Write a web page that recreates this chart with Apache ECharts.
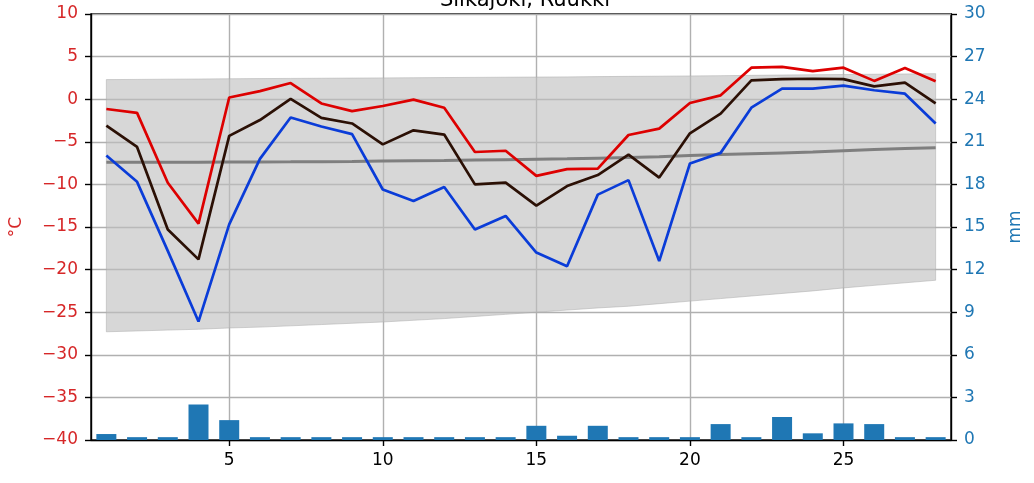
<!DOCTYPE html>
<html>
<head>
<meta charset="utf-8">
<script src="https://cdn.jsdelivr.net/npm/echarts@6/dist/echarts.min.js"></script>
<style>html,body{margin:0;padding:0;background:#fff}#c{width:1034px;height:483px}</style>
</head>
<body>
<div id="c"></div>
<script>
const title = 'Siikajoki, Ruukki';
const days = [1,2,3,4,5,6,7,8,9,10,11,12,13,14,15,16,17,18,19,20,21,22,23,24,25,26,27,28];
const xTicks = [5,10,15,20,25];
const tMax = [-1.15,-1.6,-9.8,-14.6,0.2,0.95,1.9,-0.5,-1.4,-0.8,-0.05,-1.0,-6.2,-6.05,-9.0,-8.2,-8.15,-4.2,-3.45,-0.45,0.45,3.7,3.8,3.3,3.7,2.15,3.65,2.1];
const tMean = [-3.1,-5.6,-15.3,-18.8,-4.3,-2.45,0.05,-2.2,-2.85,-5.3,-3.65,-4.15,-10.0,-9.8,-12.5,-10.2,-8.9,-6.5,-9.2,-4.0,-1.7,2.2,2.35,2.4,2.35,1.5,1.95,-0.5];
const tMin = [-6.6,-9.7,-17.8,-26.1,-14.7,-7.0,-2.15,-3.2,-4.1,-10.6,-11.95,-10.3,-15.3,-13.7,-18.0,-19.6,-11.2,-9.5,-19.0,-7.55,-6.3,-1.0,1.25,1.25,1.6,1.05,0.65,-2.85];
const climMean = [-7.4,-7.4,-7.4,-7.4,-7.38,-7.36,-7.35,-7.33,-7.3,-7.25,-7.22,-7.2,-7.15,-7.1,-7.05,-7.0,-6.92,-6.85,-6.75,-6.6,-6.5,-6.4,-6.3,-6.2,-6.05,-5.9,-5.8,-5.7];
const bandUpper = [2.3,2.32,2.35,2.37,2.4,2.42,2.44,2.46,2.48,2.5,2.52,2.54,2.56,2.58,2.6,2.62,2.65,2.68,2.7,2.73,2.76,2.8,2.84,2.87,2.9,2.93,2.96,3.0];
const bandLower = [-27.3,-27.2,-27.1,-27.0,-26.85,-26.75,-26.6,-26.45,-26.3,-26.15,-25.95,-25.75,-25.5,-25.25,-25.0,-24.75,-24.5,-24.3,-24.0,-23.7,-23.4,-23.1,-22.8,-22.5,-22.15,-21.85,-21.55,-21.25];
const precip = [0.42,0.2,0.2,2.5,1.4,0.2,0.2,0.2,0.2,0.2,0.2,0.2,0.2,0.2,1.0,0.3,1.0,0.2,0.2,0.2,1.12,0.2,1.62,0.47,1.17,1.12,0.2,0.2];

const pairs = arr => days.map((d, i) => [d, arr[i]]);
const FONT = 'DejaVu Sans';
const chart = echarts.init(document.getElementById('c'), null, {renderer: 'canvas'});
chart.setOption({
  animation: false,
  backgroundColor: '#fff',
  title: {
    text: title, left: 520, textAlign: 'center', top: -15,
    textStyle: {fontFamily: FONT, fontSize: 21, fontWeight: 'normal', color: '#000'}
  },
  grid: {left: 89, right: 83, top: 14, bottom: 43, show: true, borderColor: '#000', borderWidth: 1.4, backgroundColor: 'transparent'},
  xAxis: {
    type: 'value', min: 0.5, max: 28.5,
    axisLine: {onZero: false, lineStyle: {color: '#000', width: 1.4}},
    axisTick: {customValues: xTicks, length: 6, lineStyle: {color: '#000', width: 1.4}},
    axisLabel: {customValues: xTicks, margin: 12, color: '#000', fontFamily: FONT, fontSize: 17},
    splitLine: {show: true, lineStyle: {color: '#b0b0b0', width: 1.4}}
  },
  yAxis: [{
    type: 'value', min: -40, max: 10, interval: 5, position: 'left',
    name: '°C', nameLocation: 'middle', nameRotate: 90, nameGap: 66,
    nameTextStyle: {color: '#d62728', fontFamily: FONT, fontSize: 17},
    axisLine: {show: true, onZero: false, lineStyle: {color: '#000', width: 1.4}},
    axisTick: {show: true, length: 6, lineStyle: {color: '#000', width: 1.4}},
    axisLabel: {margin: 13, color: '#d62728', fontFamily: FONT, fontSize: 17,
      formatter: v => String(v).replace('-', '\u2212')},
    splitLine: {show: true, lineStyle: {color: '#b0b0b0', width: 1.4}}
  }, {
    type: 'value', min: 0, max: 30, interval: 3, position: 'right',
    name: 'mm', nameLocation: 'middle', nameRotate: 90, nameGap: 56,
    nameTextStyle: {color: '#1f77b4', fontFamily: FONT, fontSize: 17},
    axisLine: {show: true, onZero: false, lineStyle: {color: '#000', width: 1.4}},
    axisTick: {show: true, length: 6, lineStyle: {color: '#000', width: 1.4}},
    axisLabel: {margin: 13, color: '#1f77b4', fontFamily: FONT, fontSize: 17},
    splitLine: {show: false}
  }],
  series: [
    {type: 'custom', name: 'band', data: [[days[0], bandLower[0]]], silent: true, z: 1,
     clip: true,
     renderItem: (params, api) => {
       const pts = [];
       days.forEach((d, i) => pts.push(api.coord([d, bandUpper[i]])));
       for (let i = days.length - 1; i >= 0; i--) pts.push(api.coord([days[i], bandLower[i]]));
       return {type: 'polygon', shape: {points: pts},
         style: {fill: 'rgba(191,191,191,0.62)', stroke: 'rgba(170,170,170,0.5)', lineWidth: 1}};
     }},
    {type: 'bar', name: 'precip', yAxisIndex: 1, data: pairs(precip), barWidth: 20,
     itemStyle: {color: '#1f77b4'}, z: 2},
    {type: 'line', name: 'climMean', data: pairs(climMean), symbol: 'none',
     lineStyle: {color: '#7f7f7f', width: 3}, z: 3},
    {type: 'line', name: 'tMin', data: pairs(tMin), symbol: 'none',
     lineStyle: {color: '#0a3cd8', width: 2.7}, z: 4},
    {type: 'line', name: 'tMax', data: pairs(tMax), symbol: 'none',
     lineStyle: {color: '#dd0000', width: 2.7}, z: 4},
    {type: 'line', name: 'tMean', data: pairs(tMean), symbol: 'none',
     lineStyle: {color: '#2b1005', width: 2.7}, z: 5}
  ]
});
</script>
</body>
</html>
